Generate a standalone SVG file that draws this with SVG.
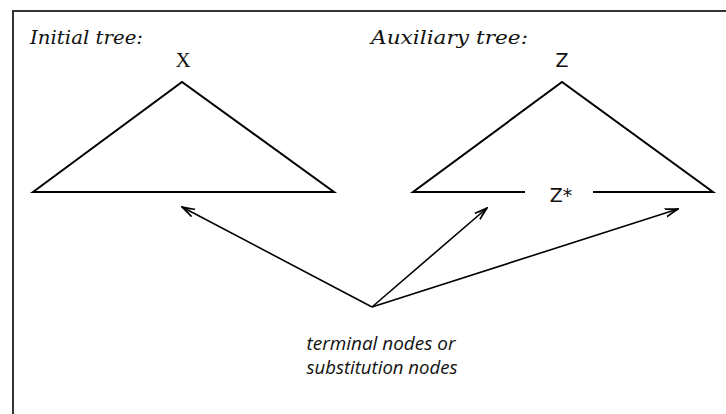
<svg xmlns="http://www.w3.org/2000/svg" width="726" height="414" viewBox="0 0 726 414">
<style>
.frame{fill:none;stroke:#333;stroke-width:2}
.tri{fill:none;stroke:#000;stroke-width:2;stroke-linejoin:miter}
.conn{fill:none;stroke:#000;stroke-width:1.6}
.title{font-family:"DejaVu Serif","Liberation Serif",serif;font-style:italic;font-size:18px;fill:#111}
.lab{font-family:"Liberation Serif",serif;font-size:21px;fill:#111}
.labs{font-family:"DejaVu Sans","Liberation Sans",sans-serif;font-size:19px;fill:#111}
.note{font-family:"Open Sans","Noto Sans",sans-serif;font-style:italic;font-size:18px;fill:#111}
</style>
<defs>
<marker id="ah" markerWidth="14" markerHeight="10" refX="13" refY="5" orient="auto" markerUnits="userSpaceOnUse">
<path d="M0,1 L13,5 L0,9 M4,2.5 L13,5 L4,7.5" fill="none" stroke="#000" stroke-width="1.6"/>
</marker>
</defs>
<rect width="726" height="414" fill="#fff"/>
<path class="frame" d="M13,414 L13,11 L726,11"/>
<g id="initial-tree">
<text class="title" x="30" y="44" textLength="113" lengthAdjust="spacingAndGlyphs">Initial tree:</text>
<text class="lab" x="183" y="67" text-anchor="middle">X</text>
<path class="tri" d="M33,192 L182,82 L334,192 Z"/>
</g>
<g id="auxiliary-tree">
<text class="title" x="371" y="44" textLength="157" lengthAdjust="spacingAndGlyphs">Auxiliary tree:</text>
<text class="labs" x="562" y="67" text-anchor="middle">Z</text>
<path class="tri" d="M525,192 L413,192 L562,82 L713,192 L593,192"/>
<text class="labs" x="561" y="202" text-anchor="middle">Z*</text>
</g>
<g id="note">
<text class="note" x="381" y="350" text-anchor="middle" textLength="149" lengthAdjust="spacingAndGlyphs">terminal nodes or</text>
<text class="note" x="382" y="374" text-anchor="middle" textLength="151" lengthAdjust="spacingAndGlyphs">substitution nodes</text>
</g>
<g id="connectors">
<line class="conn" x1="372" y1="307" x2="182" y2="207" marker-end="url(#ah)"/>
<line class="conn" x1="372" y1="307" x2="487" y2="208" marker-end="url(#ah)"/>
<line class="conn" x1="372" y1="307" x2="678" y2="209" marker-end="url(#ah)"/>
</g>
</svg>
